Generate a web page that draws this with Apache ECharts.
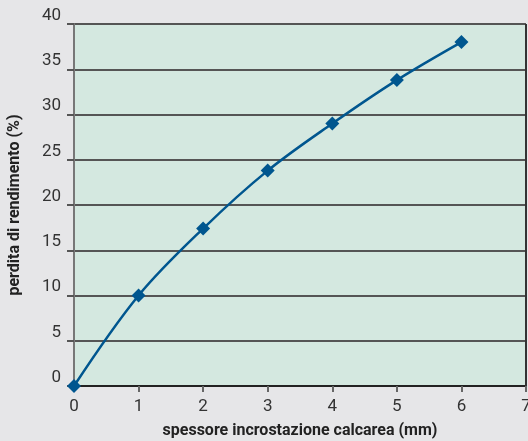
<!DOCTYPE html>
<html>
<head>
<meta charset="utf-8">
<script src="https://cdn.jsdelivr.net/npm/echarts@6/dist/echarts.min.js"></script>
<style>
  html, body { margin: 0; padding: 0; background: #e6e6e8; }
  #chart { width: 528px; height: 441px; }
</style>
</head>
<body>
<div id="chart"></div>
<script>
const thickness = [0, 1, 2, 3, 4, 5, 6];
const lossPct = [0, 10, 17.4, 23.8, 29, 33.8, 38];

const font = "Roboto, 'Liberation Sans', sans-serif";

const chart = echarts.init(document.getElementById("chart"), null, { renderer: "canvas" });

chart.setOption({
  backgroundColor: "#e6e6e8",
  animation: false,
  grid: {
    left: 74,
    right: 2,
    top: 24,
    bottom: 55,
    outerBoundsMode: "none",
    show: true,
    backgroundColor: "#d4e8e0",
    borderWidth: 0
  },
  xAxis: {
    type: "value",
    min: 0,
    max: 7,
    interval: 1,
    name: "spessore incrostazione calcarea (mm)",
    nameLocation: "middle",
    nameGap: 37,
    nameTextStyle: { fontFamily: font, fontWeight: "bold", fontSize: 16, color: "#222" },
    axisLine: { show: true, lineStyle: { color: "#222", width: 2 } },
    axisTick: { show: true, length: 6, lineStyle: { color: "#666", width: 2 } },
    axisLabel: { fontFamily: font, fontSize: 17, color: "#333", margin: 12 },
    splitLine: { show: false }
  },
  yAxis: {
    type: "value",
    min: 0,
    max: 40,
    interval: 5,
    name: "perdita di rendimento (%)",
    nameLocation: "middle",
    nameGap: 51,
    nameTextStyle: { fontFamily: font, fontWeight: "bold", fontSize: 16, color: "#222" },
    axisLine: { show: true, lineStyle: { color: "#777", width: 2 } },
    axisTick: { show: true, length: 7, lineStyle: { color: "#555", width: 2 } },
    axisLabel: { fontFamily: font, fontSize: 17, color: "#333", margin: 13, verticalAlign: "bottom" },
    splitLine: { show: true, lineStyle: { color: "#555", width: 2 } }
  },
  series: [
    {
      type: "line",
      data: thickness.map((x, i) => [x, lossPct[i]]),
      smooth: 0.35,
      symbol: "diamond",
      symbolSize: 14,
      lineStyle: { color: "#00568f", width: 2.5 },
      itemStyle: { color: "#00568f" }
    },
    {
      type: "line",
      data: [[7, 0], [7, 40]],
      symbol: "none",
      silent: true,
      lineStyle: { color: "#333", width: 2 }
    }
  ]
});
</script>
</body>
</html>
